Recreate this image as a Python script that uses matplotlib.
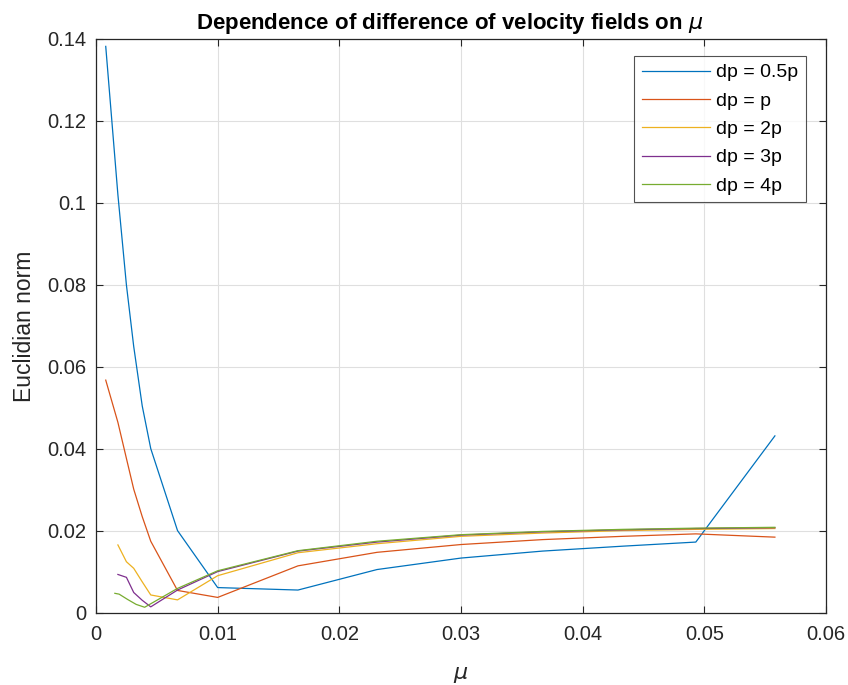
import matplotlib
matplotlib.use("Agg")
import matplotlib.pyplot as plt

plt.rcParams['font.family'] = ['Liberation Sans', 'DejaVu Sans']
plt.rcParams['mathtext.fontset'] = 'dejavusans'

# dp = 0.5p
mu_a = [0.0008, 0.0018, 0.0025, 0.0031, 0.0038, 0.0045, 0.0067, 0.0100,
        0.0166, 0.0231, 0.0300, 0.0367, 0.0433, 0.0493, 0.0558]
norm_half = [0.1382, 0.1020, 0.0800, 0.0650, 0.0505, 0.0401, 0.0201, 0.0062,
             0.0056, 0.0106, 0.0134, 0.0151, 0.0163, 0.0173, 0.0432]
# dp = p
norm_p = [0.0568, 0.0465, 0.0377, 0.0302, 0.0235, 0.0175, 0.0055, 0.0038,
          0.0115, 0.0148, 0.0167, 0.0179, 0.0187, 0.0193, 0.0185]
# dp = 2p
mu_b = [0.0018, 0.0025, 0.0031, 0.0038, 0.0045, 0.0067, 0.0100,
        0.0166, 0.0231, 0.0300, 0.0367, 0.0433, 0.0493, 0.0558]
norm_2p = [0.0166, 0.0125, 0.0109, 0.0076, 0.0044, 0.0032, 0.0091,
           0.0147, 0.0169, 0.0187, 0.0195, 0.0201, 0.0204, 0.0206]
# dp = 3p
norm_3p = [0.0094, 0.0087, 0.0050, 0.0031, 0.0015, 0.0056, 0.0101,
           0.0151, 0.0173, 0.0190, 0.0198, 0.0203, 0.0206, 0.0208]
# dp = 4p
mu_c = [0.00155, 0.0019, 0.0026, 0.0033, 0.0040, 0.0067, 0.0100,
        0.0166, 0.0231, 0.0300, 0.0367, 0.0433, 0.0493, 0.0558]
norm_4p = [0.0048, 0.0046, 0.0033, 0.0021, 0.0014, 0.0060, 0.0103,
           0.0152, 0.0175, 0.0191, 0.0199, 0.0204, 0.0207, 0.0209]

labels = ['dp = 0.5p', 'dp = p', 'dp = 2p', 'dp = 3p', 'dp = 4p']
colors = ['#0072BD', '#D95319', '#EDB120', '#7E2F8E', '#77AC30']
series = [(mu_a, norm_half), (mu_a, norm_p), (mu_b, norm_2p),
          (mu_b, norm_3p), (mu_c, norm_4p)]

xticks = [0, 0.01, 0.02, 0.03, 0.04, 0.05, 0.06]
xticklabels = ['0', '0.01', '0.02', '0.03', '0.04', '0.05', '0.06']
yticks = [0, 0.02, 0.04, 0.06, 0.08, 0.1, 0.12, 0.14]
yticklabels = ['0', '0.02', '0.04', '0.06', '0.08', '0.1', '0.12', '0.14']

fig = plt.figure(figsize=(8.48, 6.85), dpi=100)
ax = fig.add_axes([96 / 848, 1 - 613 / 685, 730 / 848, 574 / 685])

for (x, y), lab, c in zip(series, labels, colors):
    ax.plot(x, y, color=c, lw=0.9, label=lab)

ax.set_xlim(0, 0.06)
ax.set_ylim(0, 0.14)
ax.set_xticks(xticks)
ax.set_xticklabels(xticklabels)
ax.set_yticks(yticks)
ax.set_yticklabels(yticklabels)

ax.grid(True, color='#dfdfdf', lw=0.8)
ax.set_axisbelow(True)
ax.tick_params(direction='in', top=True, right=True, length=5, width=0.8,
               colors='#262626', labelsize=14.5)
ax.tick_params(axis='x', pad=9)
ax.tick_params(axis='y', pad=7)
for s in ax.spines.values():
    s.set_color('#262626')
    s.set_linewidth(0.9)

ax.set_xlabel(r'$\mu$', fontsize=16, color='#262626', labelpad=14)
ax.set_ylabel('Euclidian norm', fontsize=16.5, color='#262626', labelpad=8)
ax.set_title(r'Dependence of difference of velocity fields on $\mu$',
             fontsize=16, fontweight='bold', color='black', pad=7, x=0.485)

leg = ax.legend(loc='upper right', fontsize=14, frameon=True, fancybox=False,
                edgecolor='#262626', borderpad=0.4, handlelength=3.5,
                handletextpad=0.3, labelspacing=0.55,
                bbox_to_anchor=((806 - 96) / 730, 1 - (56 - 39) / 574),
                bbox_transform=ax.transAxes, borderaxespad=0)
leg.get_frame().set_linewidth(0.8)

fig.savefig('out.png', dpi=100, facecolor='white')
